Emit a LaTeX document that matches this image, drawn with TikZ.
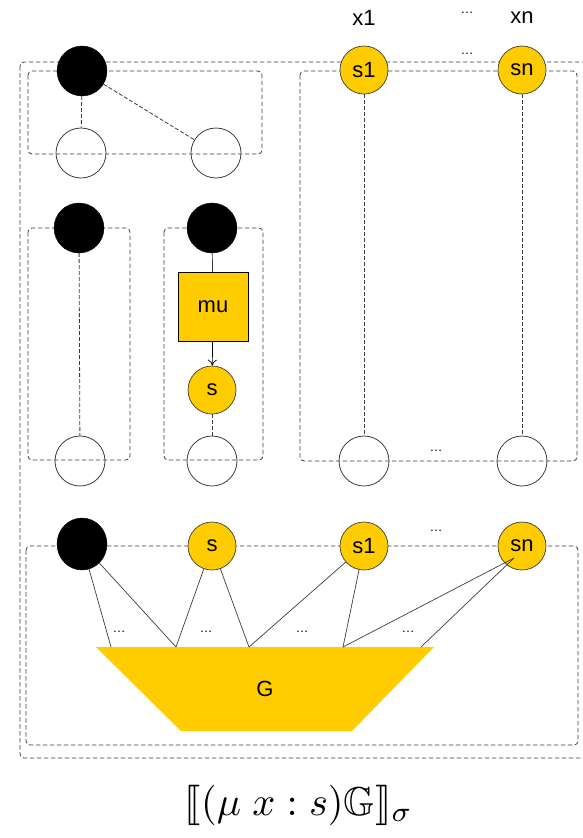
\documentclass[tikz,border=0pt]{standalone}
\usepackage[no-math]{fontspec}
\setmainfont{Liberation Sans}
\usepackage{amssymb}
\usepackage{stmaryrd}
\usepackage{graphicx}
\usetikzlibrary{arrows.meta,calc,shapes.geometric}
\definecolor{gold}{RGB}{255,204,0}
\definecolor{edge}{RGB}{60,60,60}
\begin{document}
\begin{tikzpicture}[x=1pt,y=-1pt,
  box/.style={draw=edge, line width=0.8pt, dash pattern=on 4.5pt off 2.5pt, rounded corners=4pt},
  blk/.style={circle, fill=black, draw=black, minimum size=50pt, inner sep=0pt},
  ylw/.style={circle, fill=gold, draw=edge, line width=0.7pt, minimum size=48pt, inner sep=0pt, font=\fontsize{22}{26}\selectfont},
  wht/.style={circle, draw=edge, line width=0.8pt, minimum size=50pt, inner sep=0pt},
  dline/.style={draw=edge, line width=0.8pt, dash pattern=on 4pt off 2pt},
  sline/.style={draw=edge, line width=0.7pt},
  lbl/.style={font=\fontsize{22}{26}\selectfont, inner sep=0pt},
  ell/.style={font=\fontsize{13}{15}\selectfont, inner sep=0pt}]
\useasboundingbox (0,0) rectangle (582,838);

% frames
\draw[box] (20,62) rectangle (592,758);
\draw[box] (28,71) rectangle (262,154);
\draw[box] (300,71) rectangle (577,461);
\draw[box] (28,228) rectangle (130,460);
\draw[box] (164,228) rectangle (263,460);
\draw[box] (26,546) rectangle (578,745);

% upper left group
\node[blk] (a0) at (82,71) {};
\node[wht] (a1) at (81,153) {};
\node[wht] (a2) at (216,153) {};
\draw[dline] (a0) -- (a1);
\draw[dline] (a0) -- (a2);

% variables x1 ... xn
\node[lbl] (x1) at (364,18) {x1};
\node[lbl] (xn) at (522,18) {xn};
\node[ell] (xdots) at (467,13) {\dots};
\node[ylw] (s1) at (364,70) {s1};
\node[ylw] (sn) at (522,70) {sn};
\node[ell] (sdots) at (467,54) {\dots};
\node[wht] (w1) at (364,461) {};
\node[wht] (wn) at (522,461) {};
\node[ell] (wdots) at (436,451) {\dots};
\draw[dline] (s1) -- (w1);
\draw[dline] (sn) -- (wn);

% identity wire
\node[blk] (b0) at (79,228) {};
\node[wht] (b1) at (80,461) {};
\draw[dline] (b0) -- (b1);

% mu wire
\node[blk] (c0) at (212,228) {};
\node[draw=black, fill=gold, line width=0.8pt, minimum width=70pt, minimum height=69pt, inner sep=0pt, font=\fontsize{22}{26}\selectfont] (mu) at (213,307) {mu};
\node[ylw] (cs) at (212,390) {s};
\node[wht] (c1) at (212,461) {};
\draw[sline] (c0) -- (mu);
\draw[sline, -{To[length=6pt,width=9pt]}, draw=black] (mu) -- (cs);
\draw[dline] (cs) -- (c1);

% body graph
\node[ellipse, fill=black, draw=black, minimum width=50pt, minimum height=52pt, inner sep=0pt] (d0) at (82,544) {};
\node[ylw] (ds) at (212,546) {s};
\node[ylw] (ds1) at (364,546) {s1};
\node[ylw] (dsn) at (522,546) {sn};
\node[ell] (ddots) at (436,531) {\dots};

\coordinate (tl) at (96,647);
\coordinate (tr) at (434,647);
\coordinate (br) at (352,731);
\coordinate (bl) at (181,731);
\fill[gold] (tl) -- (tr) -- (br) -- (bl) -- cycle;
\node[lbl] (G) at (265,689) {G};

\coordinate (t1) at (111,647);
\coordinate (t2) at (176,647);
\coordinate (t3) at (249,647);
\coordinate (t4) at (343,647);
\coordinate (t5) at (421,647);
\coordinate (snin) at ($(dsn.center)+(-8,12)$);
\draw[sline] (d0) -- (t1);
\draw[sline] (d0) -- (t2);
\draw[sline] (ds) -- (t2);
\draw[sline] (ds) -- (t3);
\draw[sline] (ds1) -- (t3);
\draw[sline] (ds1) -- (t4);
\draw[sline] (t4) -- (snin);
\draw[sline] (t5) -- (snin);
\node[ell] (e1) at (119,632) {\dots};
\node[ell] (e2) at (206,632) {\dots};
\node[ell] (e3) at (302,632) {\dots};
\node[ell] (e4) at (408,632) {\dots};

% caption
\node[inner sep=0pt] (cap) at (299,805) {\resizebox{228pt}{!}{$\llbracket(\mu\ x : s)\mathbb{G}\rrbracket_\sigma$}};
\end{tikzpicture}
\end{document}
